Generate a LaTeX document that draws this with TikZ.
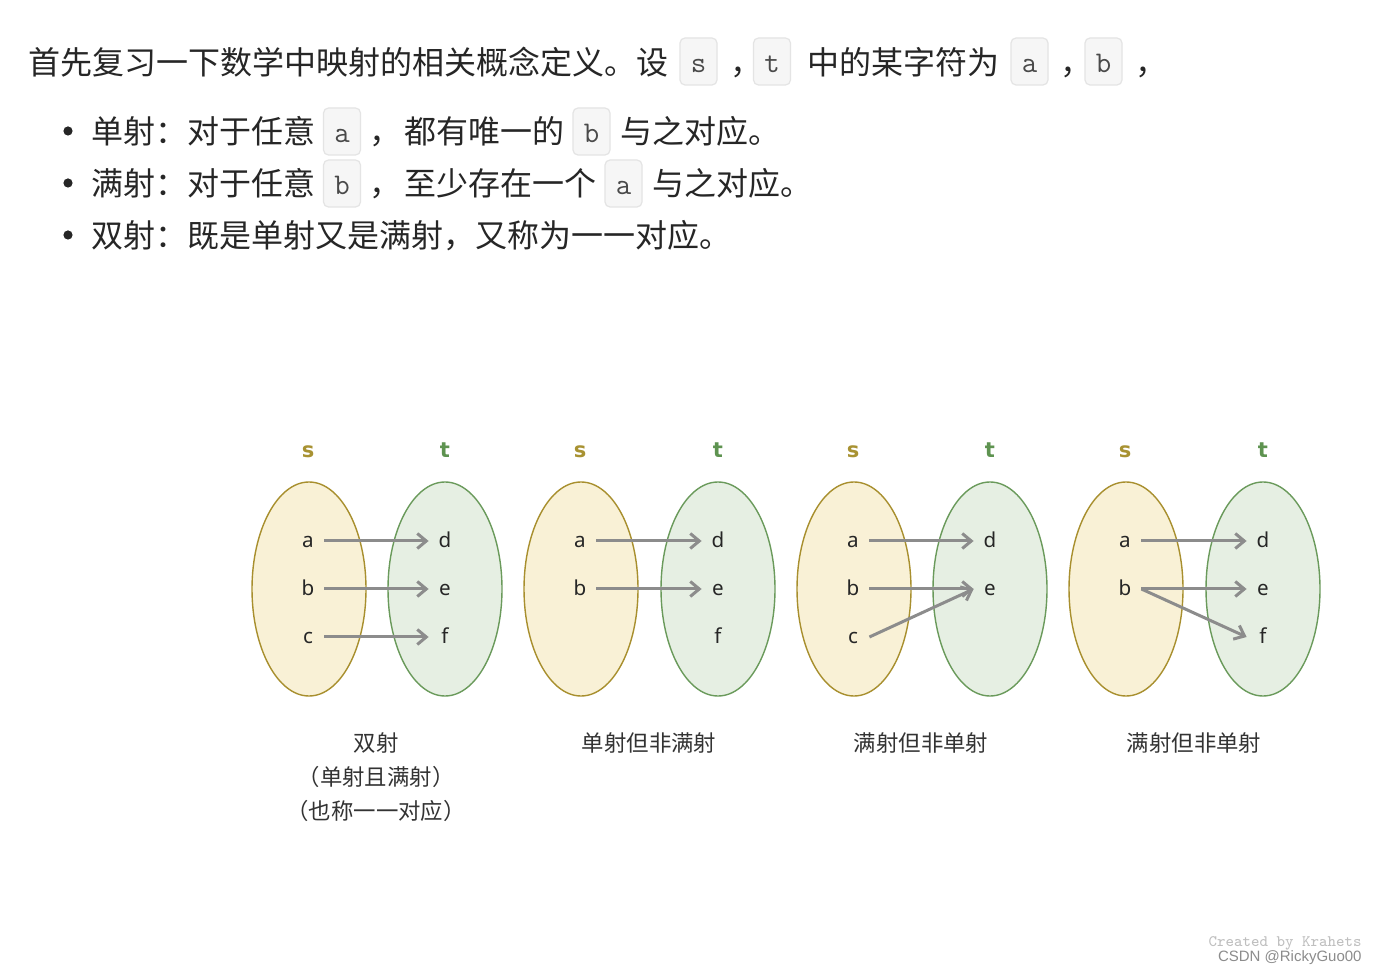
\documentclass[tikz,border=0pt]{standalone}
\usepackage{fontspec}
\usetikzlibrary{arrows.meta,shapes.geometric}
\newfontfamily\cjk{Noto Sans CJK SC}
\newfontfamily\elemf{Noto Sans}
\newfontfamily\labf{DejaVu Sans}
\newfontfamily\wmsans{Liberation Sans}
\definecolor{textc}{HTML}{262626}
\definecolor{sfill}{HTML}{F9F1D6}
\definecolor{sdraw}{HTML}{A88F2E}
\definecolor{tfill}{HTML}{E6EFE3}
\definecolor{tdraw}{HTML}{6A9A5B}
\definecolor{slab}{HTML}{A89232}
\definecolor{tlab}{HTML}{5E9350}
\definecolor{arrc}{HTML}{8C8C8C}
\definecolor{codefill}{HTML}{F6F6F6}
\definecolor{codedraw}{HTML}{E4E4E4}
\definecolor{codetext}{HTML}{4A4A4A}
\definecolor{capc}{HTML}{333333}
\tikzset{
  txt/.style={anchor=base west, inner sep=0pt, text=textc, font=\cjk\fontsize{16pt}{18pt}\selectfont},
  codebox/.style={draw=codedraw, fill=codefill, rounded corners=2.5pt, line width=0.6pt,
    minimum width=18.5pt, minimum height=23.5pt, inner sep=0pt, text height=13pt, text depth=1.5pt,
    anchor=base, font=\ttfamily\fontsize{15pt}{16pt}\selectfont, text=codetext},
  bulletdot/.style={circle, fill=textc, inner sep=0pt, minimum size=4.6pt},
  sset/.style={ellipse, draw=sdraw, fill=sfill, line width=0.7pt, minimum width=57pt, minimum height=107pt, inner sep=0pt},
  tset/.style={ellipse, draw=tdraw, fill=tfill, line width=0.7pt, minimum width=57pt, minimum height=107pt, inner sep=0pt},
  elem/.style={inner sep=0pt, minimum width=16pt, text height=7pt, text depth=0pt, text=textc, font=\elemf\fontsize{10.3pt}{12pt}\selectfont},
  slabel/.style={anchor=base, inner sep=0pt, text=slab, font=\labf\bfseries\fontsize{10.5pt}{12pt}\selectfont},
  tlabel/.style={anchor=base, inner sep=0pt, text=tlab, font=\labf\bfseries\fontsize{10.5pt}{12pt}\selectfont},
  arr/.style={draw=arrc, line width=1.5pt, -{Straight Barb[length=4.5pt, width=7.5pt, line width=1.5pt]}},
  caption/.style={anchor=base, inner sep=0pt, text=capc, font=\cjk\fontsize{11.2pt}{13pt}\selectfont},
}
\begin{document}
\begin{tikzpicture}[x=0.5pt, y=-0.5pt]
\useasboundingbox (0,0) rectangle (1376,972);
\fill[white] (0,0) rectangle (1376,972);

% line 1
\node[txt] (l1a) at (28,75) {首先复习一下数学中映射的相关概念定义。设};
\node[codebox] (l1s) at (698.5,73) {s};
\node[txt] (l1c1) at (730,75) {，};
\node[codebox] (l1t) at (772,73) {t};
\node[txt] (l1b) at (807,75) {中的某字符为};
\node[codebox] (l1ca) at (1029.5,73) {a};
\node[txt] (l1c2) at (1060,75) {，};
\node[codebox] (l1cb) at (1103.5,73) {b};
\node[txt] (l1c3) at (1135,75) {，};

% bullet 1
\node[bulletdot] (d1) at (68,131) {};
\node[txt] (l2a) at (91,144) {单射：对于任意};
\node[codebox] (l2ba) at (342,143) {a};
\node[txt] (l2c) at (369,144) {，};
\node[txt] (l2b) at (404,144) {都有唯一的};
\node[codebox] (l2bb) at (591.5,143) {b};
\node[txt] (l2d) at (620,144) {与之对应。};

% bullet 2
\node[bulletdot] (d2) at (68,183) {};
\node[txt] (l3a) at (91,196) {满射：对于任意};
\node[codebox] (l3bb) at (342,195) {b};
\node[txt] (l3c) at (369,196) {，};
\node[txt] (l3b) at (404,196) {至少存在一个};
\node[codebox] (l3ba) at (623.5,195) {a};
\node[txt] (l3d) at (652,196) {与之对应。};

% bullet 3
\node[bulletdot] (d3) at (68,235) {};
\node[txt] (l4a) at (91,248) {双射：既是单射又是满射，又称为一一对应。};

% panels
\foreach \i/\xs/\xt in {1/309/445, 2/581/718, 3/854/990, 4/1126/1263}{
  \node[sset] (S\i) at (\xs,589) {};
  \node[tset] (T\i) at (\xt,589) {};
  \node[slabel] (SL\i) at (\xs-1,458) {s};
  \node[tlabel] (TL\i) at (\xt,458) {t};
  \node[elem] (a\i) at (\xs-1,541) {a};
  \node[elem] (b\i) at (\xs-1,589) {b};
  \node[elem] (d\i) at (\xt,541) {d};
  \node[elem] (e\i) at (\xt,589) {e};
}
\node[elem] (c1) at (308,637) {c};
\node[elem] (f1) at (445,637) {f};
\node[elem] (f2) at (718,637) {f};
\node[elem] (c3) at (853,637) {c};
\node[elem] (f4) at (1263,637) {f};

% panel 1
\draw[arr] (a1.east) -- (d1.west);
\draw[arr] (b1.east) -- (e1.west);
\draw[arr] (c1.east) -- (f1.west);
% panel 2
\draw[arr] (a2.east) -- (d2.west);
\draw[arr] (b2.east) -- (e2.west);
% panel 3
\draw[arr] (a3.east) -- (d3.west);
\draw[arr] (b3.east) -- (e3.west);
\draw[arr] (c3.east) -- (e3.west);
% panel 4
\draw[arr] (a4.east) -- (d4.west);
\draw[arr] (b4.east) -- (e4.west);
\draw[arr] (b4.east) -- (f4.west);

% captions
\node[caption] (cap1a) at (376,751) {双射};
\node[caption] (cap1b) at (376,785) {（单射且满射）};
\node[caption] (cap1c) at (376,819) {（也称一一对应）};
\node[caption] (cap2) at (649,751) {单射但非满射};
\node[caption] (cap3) at (921,751) {满射但非单射};
\node[caption] (cap4) at (1194,751) {满射但非单射};

% watermark
\node[anchor=base east, inner sep=0pt, text=black!25, font=\ttfamily\fontsize{8pt}{9pt}\selectfont] (wm1) at (1362,946) {Created by Krahets};
\node[anchor=base east, inner sep=0pt, text=black!45, font=\wmsans\fontsize{7.5pt}{9pt}\selectfont] (wm2) at (1362,961) {CSDN @RickyGuo00};
\end{tikzpicture}
\end{document}
